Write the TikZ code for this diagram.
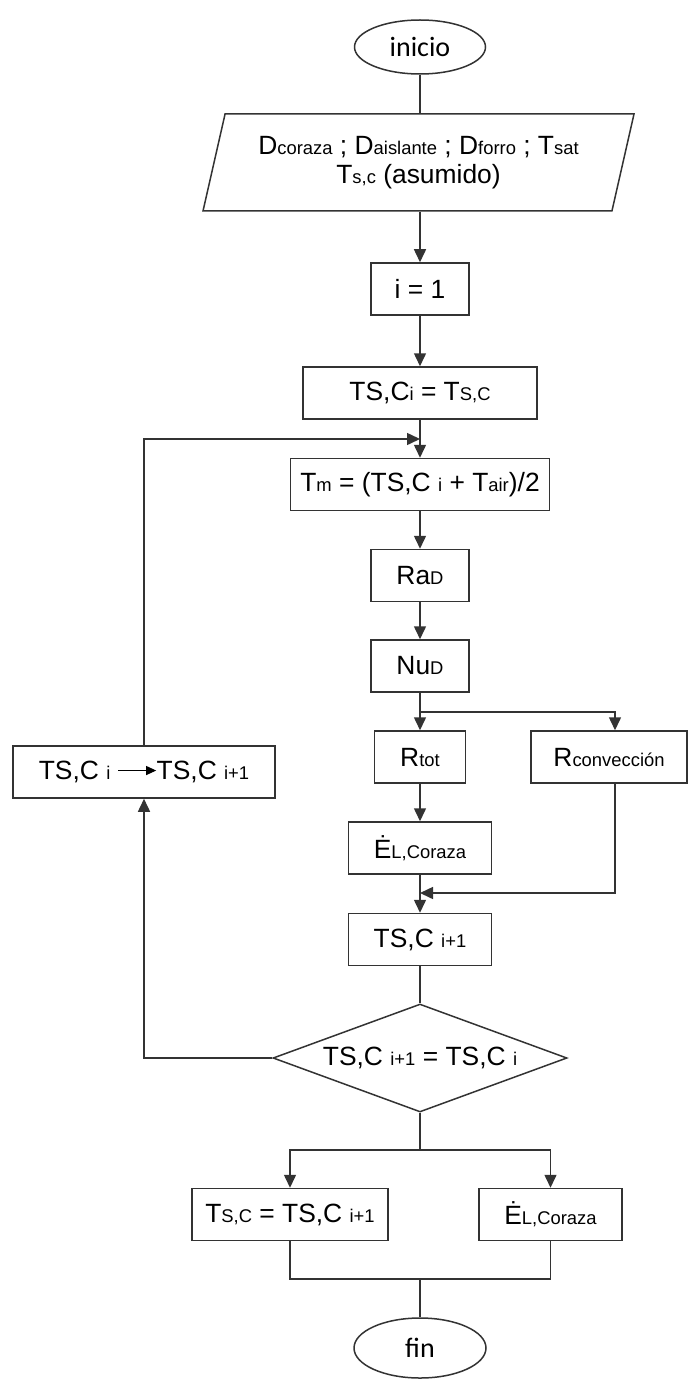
\documentclass[tikz,border=0pt]{standalone}
\usepackage{fontspec}
\setmainfont{Liberation Sans}
\newfontfamily\termfont{Carlito}
\usetikzlibrary{shapes.geometric,arrows.meta}
\newcommand{\lw}[1]{{\fontsize{9.2}{10}\selectfont #1}}
\newcommand{\flecha}{\tikz[baseline=-4.5pt]\draw[line width=0.5pt,-{Triangle[length=5pt,width=4.5pt]}] (0pt,0pt) -- (19pt,0pt);}
\begin{document}
\begin{tikzpicture}[x=0.5pt,y=-0.5pt,
  every node/.style = {draw=black!80, line width=0.75pt,
    align=center, inner sep=2pt,
    font=\fontsize{13.2}{14.5}\selectfont},
  box/.style  = {rectangle, minimum height=26pt},
  term/.style = {ellipse, font=\termfont\fontsize{14}{16}\selectfont},
  io/.style   = {trapezium, trapezium left angle=70, trapezium right angle=110,
    trapezium stretches body, minimum width=215.5pt, minimum height=48.5pt},
  cond/.style = {diamond, shape aspect=2.7, minimum width=147pt, minimum height=54pt, inner sep=0pt},
  flow/.style = {draw=black!80, line width=0.75pt},
  >={Triangle[length=6.5pt,width=6pt]}]
\useasboundingbox (0,0) rectangle (688,1380);
\node[term, minimum width=65.5pt, minimum height=27pt] (inicio) at (420,47) {inicio};
\node[io] (datos) at (418.5,162.5)
  {D\lw{coraza} ; D\lw{aislante} ; D\lw{forro} ; T\lw{sat}\\T\lw{s,c} (asumido)};
\node[box, minimum width=49pt] (uno) at (420,289) {i = 1};
\node[box, minimum width=117pt] (tsci) at (420,393) {TS,C\lw{i} = T\lw{S,C}};
\node[box, minimum width=129.5pt] (tm) at (420,484.5) {T\lw{m} = (TS,C \lw{i} + T\lw{air})/2};
\node[box, minimum width=49pt] (ra) at (420,575.5) {Ra\lw{D}};
\node[box, minimum width=49pt] (nu) at (420,666) {Nu\lw{D}};
\node[box, minimum width=45.5pt] (rtot) at (420,757) {R\lw{tot}};
\node[box, minimum width=78pt] (rconv) at (609,757) {R\lw{convección}};
\node[box, minimum width=71.5pt] (eco) at (420,848) {Ė\lw{L,Coraza}};
\node[box, minimum width=71.5pt] (tsn) at (420,939.5) {TS,C \lw{i+1}};
\node[cond] (comp) at (420,1058) {TS,C \lw{i+1} = TS,C \lw{i}};
\node[box, minimum width=131pt] (paso) at (144,772) {TS,C \lw{i} \flecha TS,C \lw{i+1}};
\node[box, minimum width=98pt] (tsfin) at (290,1214.5) {T\lw{S,C} = TS,C \lw{i+1}};
\node[box, minimum width=71.5pt] (efin) at (550.5,1214.5) {Ė\lw{L,Coraza}};
\node[term, minimum width=66pt, minimum height=30pt] (fin) at (420,1348) {fin};
\coordinate (lazo) at (420,439);
\coordinate (rama) at (420,712);
\coordinate (cv) at (615,712);
\coordinate (junta) at (420,893);
\coordinate (sal) at (420,1150);
\coordinate (union) at (420,1279);
\draw[flow] (inicio) -- (inicio |- datos.north);
\draw[flow,->] (uno |- datos.south) -- (uno);
\draw[flow,->] (uno) -- (tsci);
\draw[flow,->] (tsci) -- (tm);
\draw[flow,->] (comp.west) -| (paso);
\draw[flow,->] (paso) |- (lazo);
\draw[flow,->] (tm) -- (ra);
\draw[flow,->] (ra) -- (nu);
\draw[flow,->] (nu) -- (rtot);
\draw[flow,->] (rama) -| (rconv.north -| cv);
\draw[flow,->] (rtot) -- (eco);
\draw[flow,->] (eco) -- (tsn);
\draw[flow,->] (rconv.south -| cv) |- (junta);
\draw[flow] (tsn) -- (comp);
\draw[flow] (comp) -- (sal);
\draw[flow,->] (sal) -| (tsfin);
\draw[flow,->] (sal) -| (efin);
\draw[flow] (tsfin) |- (union) -| (efin);
\draw[flow] (union) -- (fin);
\end{tikzpicture}
\end{document}
